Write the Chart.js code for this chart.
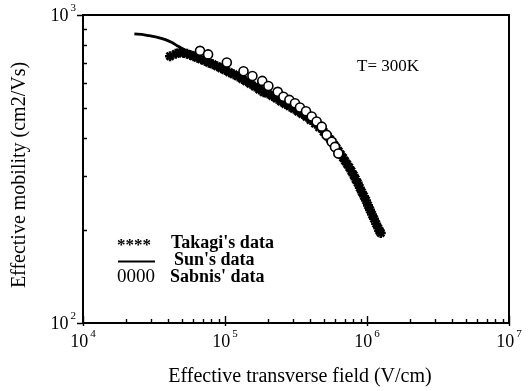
<!DOCTYPE html>
<html><head><meta charset="utf-8">
<script src="https://cdn.jsdelivr.net/npm/chart.js@4/dist/chart.umd.min.js"></script>
<style>html,body{margin:0;padding:0;background:#fff;}#wrap{width:531px;height:391px;}</style>
</head><body><div id="wrap"><canvas id="c" width="531" height="391"></canvas></div>
<script>
// ---- data ----
const takagiField = [41000,45000,48000,51000,54000,57000,60000,64000,68000,72000,77000,82000,88000,94000,100000,107000,115000,123000,132000,141000,151000,162000,174000,187000,200000,215000,231000,248000,266000,285000,305000,327000,350000,375000,400000,430000,460000,495000,512000,530000,550000,570000,590000,610000,632000,655000,678000,700000,725000,750000,777000,805000,832000,860000,890000,920000,952000,985000,1017000,1050000,1085000,1120000,1160000,1200000,1225000,1250000];
const takagiMobility = [735,748,756,752,748,742,735,726,718,710,700,692,682,672,663,652,642,632,620,609,598,586,573,561,556,546,535,524,514,505,496,486,477,467,456,444,432,418,410,403,395,387,378,370,361,352,344,336,328,320,311,302,293,285,275,266,258,250,241,233,225,218,210,203,199,196];

const sunField = [23000,27000,30000,34000,38000,42000,46000,50000,55000,62000,70000,80000,100000,130000,160000,200000,250000,300000,350000,400000,450000,500000,550000,600000];
const sunMobility = [868,862,855,845,832,815,795,778,762,745,728,708,672,630,598,562,527,502,482,462,440,418,398,378];

const sabnisField = [66700,76000,103000,135000,156000,183000,202000,235000,258000,284000,311000,337000,372000,408000,442000,480000,520000,564000,595000,628000];
const sabnisMobility = [765,745,701,657,634,611,588,563,543,530,517,501,487,468,451,434,408,388,373,355];

const xTickValues = [1e4,1e5,1e6,1e7];
const yTickValues = [1e2,1e3];
const xTitle = 'Effective transverse field (V/cm)';
const yTitle = 'Effective mobility (cm2/Vs)';
const legendSymbols = ['****','','0000'];
const legendLabels = ["Takagi's data","Sun's data","Sabnis' data"];
const annotationText = 'T= 300K';

const toPts = (xs, ys) => xs.map((x,i)=>({x:x, y:ys[i]}));
const SERIF = '"Liberation Serif", "Times New Roman", serif';

const decor = {
  id:'decor',
  afterDraw(chart){
    const {ctx, chartArea:a, scales:{x, y}} = chart;
    ctx.save();
    ctx.strokeStyle = '#000'; ctx.fillStyle = '#000';
    // frame
    ctx.lineWidth = 2;
    ctx.strokeRect(a.left, a.top, a.right-a.left, a.bottom-a.top);
    ctx.lineWidth = 1.4;
    ctx.beginPath();
    // x minor ticks (inward)
    for (let k=4;k<7;k++) for (let m=2;m<10;m++){
      const px = Math.round(x.getPixelForValue(m*Math.pow(10,k)))+0.5;
      ctx.moveTo(px, a.bottom); ctx.lineTo(px, a.bottom-4);
    }
    // x major ticks
    xTickValues.forEach(v=>{
      const px = Math.round(x.getPixelForValue(v))+0.5;
      ctx.moveTo(px, a.bottom-7); ctx.lineTo(px, a.bottom+3);
    });
    // y minor ticks (inward)
    for (let m=2;m<10;m++){
      const py = Math.round(y.getPixelForValue(m*100))+0.5;
      ctx.moveTo(a.left, py); ctx.lineTo(a.left+4, py);
    }
    // y major ticks (outward)
    yTickValues.forEach(v=>{
      const py = Math.round(y.getPixelForValue(v))+0.5;
      ctx.moveTo(a.left-6, py); ctx.lineTo(a.left, py);
    });
    ctx.stroke();

    // tick labels with superscripts
    const drawPow = (txt, exp, cx, cy, align) => {
      ctx.font = '18px ' + SERIF;
      const w1 = ctx.measureText(txt).width;
      ctx.font = '11px ' + SERIF;
      const w2 = ctx.measureText(exp).width;
      const gap = 2;
      let left = align==='right' ? cx - (w1+gap+w2) : cx - (w1+gap+w2)/2;
      ctx.textBaseline = 'middle'; ctx.textAlign = 'left';
      ctx.font = '18px ' + SERIF;
      ctx.fillText(txt, left, cy);
      ctx.font = '11px ' + SERIF;
      ctx.fillText(exp, left + w1 + gap, cy - 8);
    };
    xTickValues.forEach(v=>{
      drawPow('10', String(Math.round(Math.log10(v))), x.getPixelForValue(v), a.bottom+19, 'center');
    });
    yTickValues.forEach(v=>{
      drawPow('10', String(Math.round(Math.log10(v))), a.left-7, y.getPixelForValue(v)+1, 'right');
    });

    // axis titles
    ctx.font = '20px ' + SERIF;
    ctx.textAlign = 'center'; ctx.textBaseline = 'middle';
    ctx.fillText(xTitle, 300, 377);
    ctx.save();
    ctx.translate(20, 175);
    ctx.rotate(-Math.PI/2);
    ctx.fillText(yTitle, 0, 0);
    ctx.restore();

    // annotation
    ctx.font = '17px ' + SERIF;
    ctx.textAlign = 'left';
    ctx.fillText(annotationText, 357, 67);

    // legend
    const rows = [243, 260, 277];
    ctx.font = 'bold 17px ' + SERIF;
    ctx.fillText(legendSymbols[0], 117, rows[0]+3);
    ctx.font = '19px ' + SERIF;
    ctx.fillText(legendSymbols[2], 117, rows[2]);
    ctx.lineWidth = 1.8;
    ctx.beginPath(); ctx.moveTo(118, rows[1]+1.5); ctx.lineTo(155, rows[1]+1.5); ctx.stroke();
    ctx.font = 'bold 18px ' + SERIF;
    ctx.fillText(legendLabels[0], 171, rows[0]);
    ctx.fillText(legendLabels[1], 174, rows[1]);
    ctx.fillText(legendLabels[2], 170, rows[2]);
    ctx.restore();
  }
};

new Chart(document.getElementById('c'), {
  type: 'scatter',
  data: {
    datasets: [
      {label:"Sabnis' data", data: toPts(sabnisField, sabnisMobility), pointStyle:'circle', pointRadius:4.5,
       backgroundColor:'#fff', borderColor:'#000', borderWidth:1.6, showLine:false, order:1},
      {label:"Takagi's data", data: toPts(takagiField, takagiMobility), pointStyle:'star', pointRadius:5,
       borderColor:'#000', backgroundColor:'#000', borderWidth:2.6, showLine:false, order:2},
      {label:"Sun's data", data: toPts(sunField, sunMobility), showLine:true, pointRadius:0,
       borderColor:'#000', borderWidth:2.8, tension:0.3, order:3}
    ]
  },
  options: {
    responsive:false, animation:false, devicePixelRatio:1,
    layout:{padding:{top:15, right:22, left:0, bottom:0}},
    plugins:{legend:{display:false}, tooltip:{enabled:false}},
    scales:{
      x:{type:'logarithmic', min:1e4, max:1e7,
         ticks:{display:false}, grid:{display:false}, border:{display:false},
         afterFit:s=>{s.height=68;}},
      y:{type:'logarithmic', min:100, max:1000,
         ticks:{display:false}, grid:{display:false}, border:{display:false},
         afterFit:s=>{s.width=83;}}
    }
  },
  plugins:[decor]
});
</script>
</body></html>
